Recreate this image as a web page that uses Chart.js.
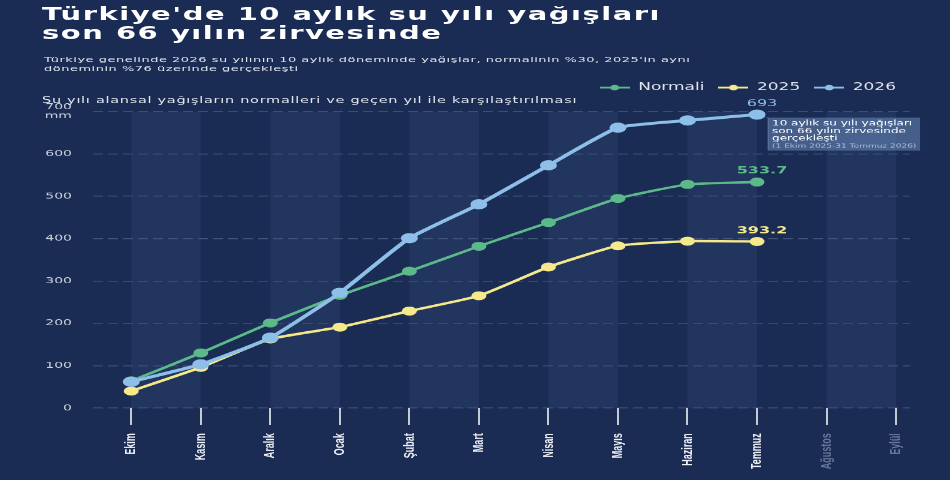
<!DOCTYPE html>
<html lang="tr">
<head>
<meta charset="utf-8">
<title>Türkiye'de 10 aylık su yılı yağışları</title>
<script src="https://cdn.jsdelivr.net/npm/chart.js@4.4.1/dist/chart.umd.min.js"></script>
<style>
  html, body { margin: 0; padding: 0; background: #1b2c54; }
  #wrap { position: relative; width: 950px; height: 480px; overflow: hidden; }
  /* the reference picture is squeezed vertically, so draw tall and squeeze */
  #stage { position: absolute; left: 0; top: 0; width: 950px; height: 800px; transform: scaleY(0.6); transform-origin: 0 0; }
  #chart { position: absolute; left: 0; top: 0; }
  .txt { position: absolute; left: 42px; color: #e6e9f0; font-family: "DejaVu Sans", sans-serif; white-space: nowrap; }
  #title { top: 7px; font-size: 29px; line-height: 32px; font-weight: bold; color: #ffffff; letter-spacing: 1.5px; }
  #sub { top: 90.5px; left: 44px; font-size: 13px; line-height: 15.5px; letter-spacing: 0.5px; color: #dfe3ec; }
  #head { top: 158px; font-size: 14.5px; line-height: 17px; letter-spacing: 0.7px; color: #e1e5ee; }
</style>
</head>
<body>
<div id="wrap">
  <div id="stage">
    <canvas id="chart" width="950" height="800"></canvas>
    <div id="title" class="txt">Türkiye'de 10 aylık su yılı yağışları<br>son 66 yılın zirvesinde</div>
    <div id="sub" class="txt">Türkiye genelinde 2026 su yılının 10 aylık döneminde yağışlar, normalinin %30, 2025'in aynı<br>döneminin %76 üzerinde gerçekleşti</div>
    <div id="head" class="txt">Su yılı alansal yağışların normalleri ve geçen yıl ile karşılaştırılması</div>
  </div>
</div>
<script>
const months = ["Ekim", "Kasım", "Aralık", "Ocak", "Şubat", "Mart", "Nisan", "Mayıs", "Haziran", "Temmuz", "Ağustos", "Eylül"];
const normalValues = [64, 130, 201, 266, 323, 382, 438, 495, 528, 533.7];
const values2025 = [40, 96, 163, 191, 229, 265, 333, 383, 394, 393.2];
const values2026 = [62, 103, 166, 272, 401, 481, 573, 662, 679, 693];
const yTicks = [0, 100, 200, 300, 400, 500, 600, 700];
const note = ["10 aylık su yılı yağışları", "son 66 yılın zirvesinde", "gerçekleşti"];
const noteDates = "(1 Ekim 2025-31 Temmuz 2026)";

const green = "#5cb98a";
const yellow = "#f6e98c";
const blue = "#8dbfe9";
const font = "'DejaVu Sans', sans-serif";

function points(values) {
  return values.map((v, i) => ({ x: i, y: v }));
}

// little line-with-dot picture for the legend
function legendMark(color) {
  const c = document.createElement("canvas");
  c.width = 30;
  c.height = 14;
  const g = c.getContext("2d");
  g.strokeStyle = color;
  g.lineWidth = 3;
  g.beginPath();
  g.moveTo(0, 7);
  g.lineTo(30, 7);
  g.stroke();
  g.fillStyle = color;
  g.beginPath();
  g.arc(15, 7, 4.5, 0, Math.PI * 2);
  g.fill();
  return c;
}

// alternating month columns
const bands = {
  id: "bands",
  beforeDatasetsDraw(chart) {
    const { ctx, scales: { x, y } } = chart;
    const top = y.getPixelForValue(700);
    const bottom = y.getPixelForValue(0);
    ctx.save();
    ctx.fillStyle = "rgba(60, 90, 140, 0.2)";
    for (let i = 0; i < months.length - 1; i += 2) {
      const l = x.getPixelForValue(i);
      const r = x.getPixelForValue(i + 1);
      ctx.fillRect(l, top, r - l, bottom - top);
    }
    ctx.restore();
  }
};

// end values and the note box
const endLabels = {
  id: "endLabels",
  afterDatasetsDraw(chart) {
    const { ctx } = chart;
    ctx.save();
    ctx.textAlign = "center";
    ctx.textBaseline = "middle";
    chart.data.datasets.forEach((ds, i) => {
      const meta = chart.getDatasetMeta(i);
      const last = meta.data[meta.data.length - 1];
      const v = ds.data[ds.data.length - 1].y;
      ctx.fillStyle = ds.borderColor;
      ctx.font = (i === 2 ? "" : "bold ") + "16px " + font;
      ctx.fillText(String(v), last.x + 5, last.y - 18);
    });

    const meta = chart.getDatasetMeta(2);
    const p = meta.data[meta.data.length - 1];
    const bx = p.x + 11, by = p.y + 5, bw = 152, bh = 55;
    ctx.fillStyle = "rgba(100, 130, 175, 0.6)";
    ctx.fillRect(bx, by, bw, bh);
    ctx.strokeStyle = "rgba(180, 200, 230, 0.3)";
    ctx.lineWidth = 1;
    ctx.beginPath();
    ctx.moveTo(p.x + 3, p.y + 5);
    ctx.lineTo(bx, by);
    ctx.lineTo(bx, by + bh);
    ctx.stroke();
    ctx.textAlign = "left";
    ctx.fillStyle = "#ffffff";
    ctx.font = "12px " + font;
    note.forEach((line, k) => ctx.fillText(line, bx + 4, by + 10 + k * 12.5));
    ctx.fillStyle = "rgba(215, 225, 242, 0.7)";
    ctx.font = "9px " + font;
    ctx.fillText(noteDates, bx + 4, by + 48);
    ctx.restore();
  }
};

new Chart(document.getElementById("chart"), {
  type: "line",
  data: {
    datasets: [
      {
        label: "Normali",
        data: points(normalValues),
        borderColor: green,
        backgroundColor: green,
        borderWidth: 4,
        pointRadius: 5.5,
        order: 1
      },
      {
        label: "2025",
        data: points(values2025),
        borderColor: yellow,
        backgroundColor: yellow,
        borderWidth: 4,
        pointRadius: 5.5,
        order: 2
      },
      {
        label: "2026",
        data: points(values2026),
        borderColor: blue,
        backgroundColor: blue,
        borderWidth: 5,
        pointRadius: 6,
        order: 0
      }
    ]
  },
  options: {
    responsive: false,
    animation: false,
    devicePixelRatio: 1,
    layout: { padding: { top: 123.5, right: 40, bottom: 0, left: 0 } },
    elements: { line: { tension: 0.15 }, point: { borderWidth: 0 } },
    plugins: {
      legend: {
        position: "top",
        align: "end",
        labels: {
          usePointStyle: true,
          pointStyleWidth: 30,
          padding: 14,
          color: "#dfe3ec",
          font: { family: font, size: 17 },
          generateLabels(chart) {
            return chart.data.datasets.map((ds, i) => ({
              text: ds.label,
              fontColor: "#dfe3ec",
              pointStyle: legendMark(ds.borderColor),
              lineWidth: 0,
              strokeStyle: "transparent",
              fillStyle: ds.borderColor,
              datasetIndex: i
            }));
          }
        }
      },
      tooltip: { enabled: false }
    },
    scales: {
      x: {
        type: "linear",
        min: -0.55,
        max: 11.2,
        border: { display: false },
        afterFit(scale) { scale.height = 120; },
        grid: {
          drawOnChartArea: false,
          drawTicks: true,
          tickLength: 28,
          color: "#c3c9d5",
          lineWidth: 2
        },
        ticks: {
          stepSize: 1,
          includeBounds: false,
          autoSkip: false,
          maxRotation: 90,
          minRotation: 90,
          padding: 14,
          font: { family: "'Liberation Sans', sans-serif", size: 15, weight: "bold" },
          color: (c) => (c.tick && c.tick.value > 9 ? "#67779a" : "#eef0f4"),
          callback: (v) => months[v]
        }
      },
      y: {
        min: 0,
        max: 730.4,
        border: { display: false, dash: [10, 5] },
        afterFit(scale) { scale.width = 93; },
        afterBuildTicks(scale) { scale.ticks = yTicks.map((v) => ({ value: v })); },
        grid: {
          drawTicks: false,
          color: "rgba(190, 205, 230, 0.25)",
          lineWidth: 1.5
        },
        ticks: {
          padding: 21,
          color: "#c9cfdb",
          font: { family: font, size: 14, lineHeight: 1.05 },
          callback: (v) => (v === 700 ? ["700", "mm"] : v)
        }
      }
    }
  },
  plugins: [bands, endLabels]
});
</script>
</body>
</html>
